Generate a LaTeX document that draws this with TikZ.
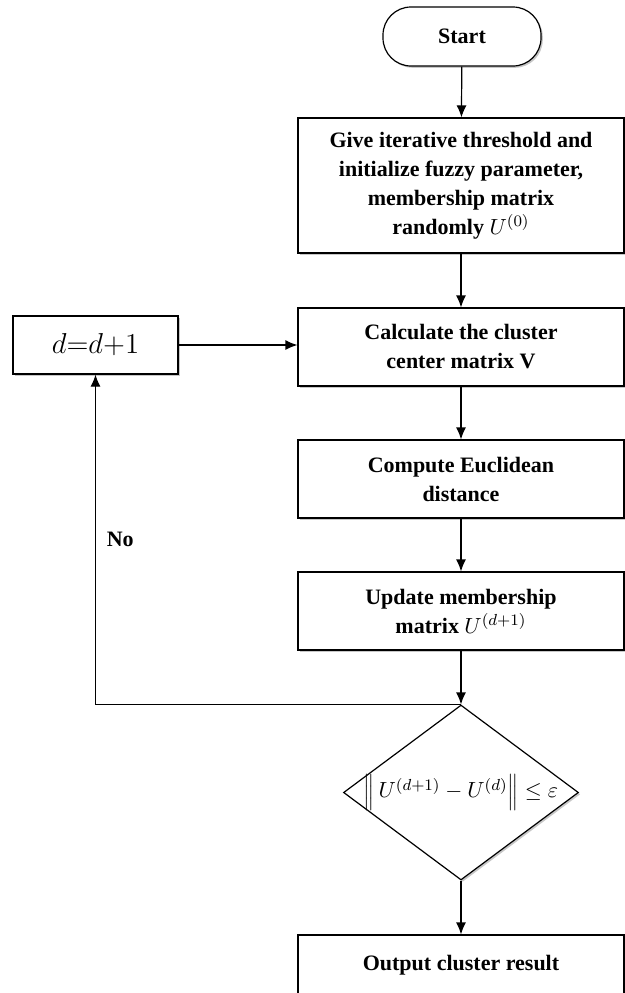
\documentclass[tikz,border=0pt]{standalone}
\usepackage{fontspec}
\setmainfont{Liberation Serif}
\usetikzlibrary{shapes.geometric,arrows.meta,shadows}

\tikzset{
  base/.style={draw, line width=0.6pt, fill=white, align=center,
    font=\fontsize{11}{14.5}\selectfont\bfseries,
    drop shadow={shadow xshift=0.9pt, shadow yshift=-0.9pt, fill=black!22, opacity=1}},
  term/.style={base, rounded corners=14pt, minimum width=79pt, minimum height=29.5pt},
  procbox/.style={base, minimum width=163pt, inner sep=0pt},
  decision/.style={base, diamond, aspect=1.34, inner sep=0pt,
    minimum width=117.5pt, minimum height=87.5pt},
  flow/.style={line width=0.6pt, -{Latex[length=6pt,width=5pt]}}
}

\begin{document}
\begin{tikzpicture}[x=0.5pt, y=-0.5pt]
  \useasboundingbox (0,0) rectangle (625,993);
  \clip (0,0) rectangle (625,993);

  % main column
  \node[term] (start) at (462,36.5) {Start};
  \node[procbox, minimum height=67.5pt] (init) at (461,185.5)
    {Give iterative threshold and\\ initialize fuzzy parameter,\\ membership matrix\\ randomly $U^{(0)}$};
  \node[procbox, minimum height=39pt] (center) at (461,347)
    {Calculate the cluster\\ center matrix V};
  \node[procbox, minimum height=39pt] (dist) at (461,479)
    {Compute Euclidean\\ distance};
  \node[procbox, minimum height=39pt] (update) at (461,611)
    {Update membership\\ matrix $U^{(d+1)}$};
  \node[decision] (check) at (461,792.5)
    {\makebox[0pt]{\mdseries$\Bigl\|\,U^{(d+1)}-U^{(d)}\Bigr\|\le\varepsilon$}};
  \node[procbox, minimum height=30.5pt] (result) at (461,965.5)
    {Output cluster result};

  % counter box on the left
  \node[base, minimum width=82.5pt, minimum height=29pt, inner sep=0pt,
        font=\fontsize{14}{16}\selectfont] (incr) at (95.5,345) {$d{=}d{+}1$};

  % connectors
  \draw[flow] (start) -- (init);
  \draw[flow] (init) -- (center);
  \draw[flow] (center) -- (dist);
  \draw[flow] (dist) -- (update);
  \draw[flow] (update) -- (check);
  \draw[flow] (check) -- (result);
  \draw[flow] (check.north) -| (incr.south)
    node[pos=0.75, right, xshift=2pt, font=\fontsize{11}{13}\selectfont\bfseries] (no) {No};
  \draw[flow] (incr.east) -- (incr.east -| center.west);
\end{tikzpicture}
\end{document}
